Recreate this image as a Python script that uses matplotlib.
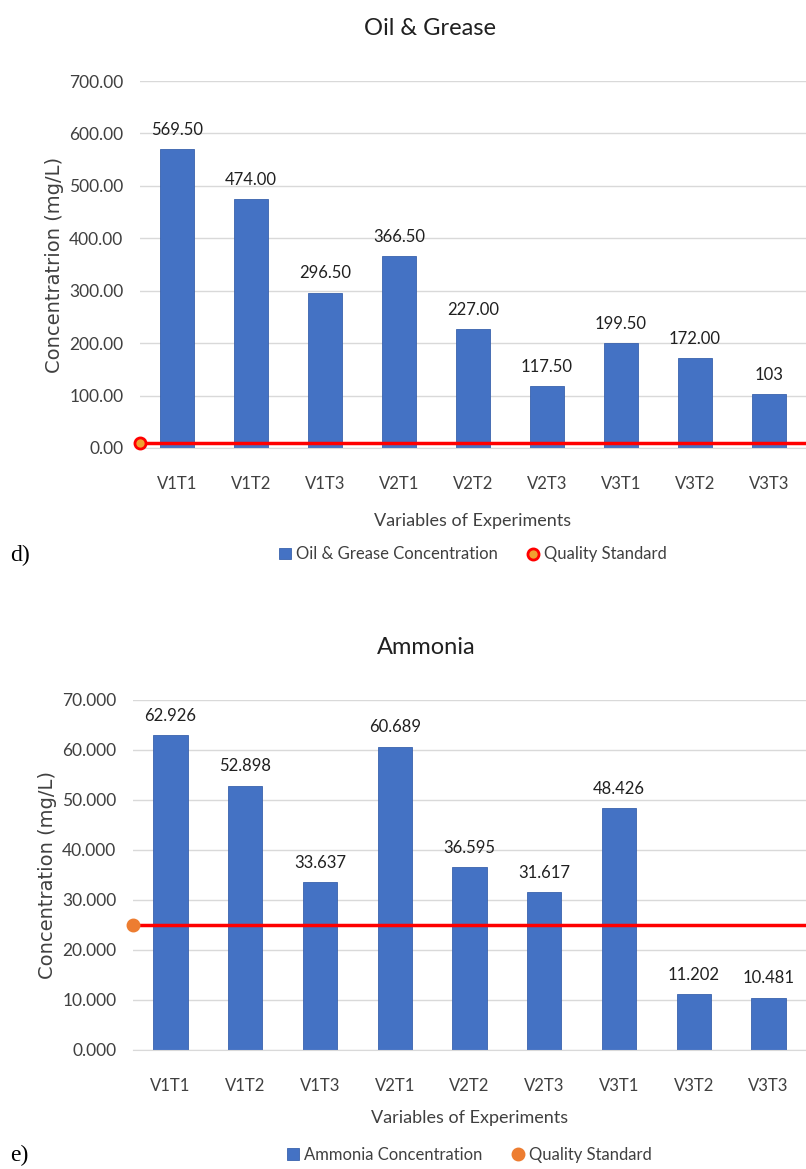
import matplotlib.pyplot as plt

categories = ['V1T1', 'V1T2', 'V1T3', 'V2T1', 'V2T2', 'V2T3', 'V3T1', 'V3T2', 'V3T3']

oil_values = [569.50, 474.00, 296.50, 366.50, 227.00, 117.50, 199.50, 172.00, 103]
oil_labels = ['569.50', '474.00', '296.50', '366.50', '227.00', '117.50', '199.50', '172.00', '103']
oil_standard = 10
oil_ticks = [0, 100, 200, 300, 400, 500, 600, 700]

nh3_values = [62.926, 52.898, 33.637, 60.689, 36.595, 31.617, 48.426, 11.202, 10.481]
nh3_standard = 25
nh3_ticks = [0, 10, 20, 30, 40, 50, 60, 70]

blue = '#4472C4'
grey = '#404040'
font = 'Lato'

fig = plt.figure(figsize=(8.06, 11.69), dpi=100)

def panel(rect, values, labels, ticks, fmt, standard, title, title_x, ylabel, bar_name,
          mfc, mec, letter, letter_y, leg_y, xlab_pad):
    ax = fig.add_axes(rect)
    x = list(range(len(categories)))
    bars = ax.bar(x, values, width=0.46, color=blue, edgecolor='#3a62ad', linewidth=0.6,
                  zorder=2)
    for xi, v, lab in zip(x, values, labels):
        ax.annotate(lab, (xi, v), xytext=(0, 8), textcoords='offset points',
                    ha='center', va='bottom', fontsize=12, color='#202020',
                    family=font)
    ax.set_xlim(-0.5, len(categories) - 0.5)
    ax.set_ylim(ticks[0], ticks[-1])
    ax.set_yticks(ticks)
    ax.set_yticklabels([fmt.format(t) for t in ticks], family=font, fontsize=12.5, color=grey)
    ax.set_xticks(x)
    ax.set_xticklabels(categories, family=font, fontsize=12, color=grey)
    ax.tick_params(length=0, pad=12)
    ax.tick_params(axis='x', pad=20)
    ax.grid(axis='y', color='#d9d9d9', linewidth=1, zorder=0)
    for s in ['top', 'right', 'left']:
        ax.spines[s].set_visible(False)
    ax.spines['bottom'].set_color('#d9d9d9')
    ax.plot([-0.5, len(categories) - 0.5], [standard, standard], color='red',
            linewidth=2.5, zorder=3, clip_on=False)
    dot, = ax.plot([-0.5], [standard], 'o', markersize=8, markerfacecolor=mfc,
                   markeredgecolor=mec, markeredgewidth=2, zorder=4, clip_on=False)
    fig.text(title_x, rect[1] + rect[3] + 0.045, title, family=font, fontsize=17,
             color='#202020', ha='center', va='center')
    ax.set_ylabel(ylabel, family='DejaVu Sans', fontsize=14, color=grey, labelpad=4)
    ax.set_xlabel('Variables of Experiments', family=font, fontsize=13, color=grey,
                  labelpad=xlab_pad)
    leg = ax.legend([bars, dot], [bar_name, 'Quality Standard'], loc='center',
                    bbox_to_anchor=(0.5, leg_y), ncol=2, frameon=False,
                    prop={'family': font, 'size': 12}, handlelength=0.7,
                    handletextpad=0.3, columnspacing=1.8)
    for t in leg.get_texts():
        t.set_color(grey)
    fig.text(10 / 806, letter_y, letter, family='Liberation Serif', fontsize=17,
             color='black', va='center')
    return ax

panel([140 / 806, 721 / 1169, 666 / 806, 367 / 1169], oil_values, oil_labels,
      oil_ticks, '{:.2f}', oil_standard, 'Oil & Grease', 430 / 806,
      'Concentratrion (mg/L)', 'Oil & Grease Concentration', '#f0a030', 'red',
      'd)', 1 - 555 / 1169, -0.29, 15)

nh3_labels = ['{:.3f}'.format(v) for v in nh3_values]
panel([133 / 806, 119 / 1169, 673 / 806, 350 / 1169], nh3_values, nh3_labels,
      nh3_ticks, '{:.3f}', nh3_standard, 'Ammonia', 426 / 806,
      'Concentration (mg/L)', 'Ammonia Concentration', '#ED7D31', '#ED7D31',
      'e)', 1 - 1155 / 1169, -0.3, 12)

fig.savefig('out.png', dpi=100, facecolor='white')
